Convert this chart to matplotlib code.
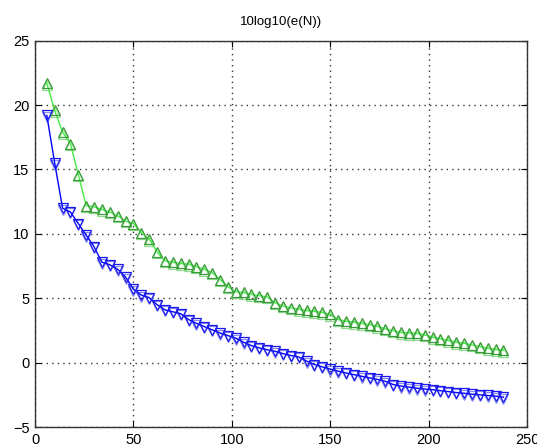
import numpy as np
import matplotlib
matplotlib.use("Agg")
import matplotlib.pyplot as plt
from matplotlib.transforms import offset_copy

plt.rcParams['font.family'] = ['Liberation Sans', 'DejaVu Sans']

# sample index N
n = list(range(6, 242, 4))

# 10*log10(e(N)) for the two runs
err_up = [21.7, 19.6, 17.9, 17.0, 14.6, 12.2, 12.1, 11.9, 11.7, 11.4,
          11.0, 10.8, 10.1, 9.6, 8.6, 7.9, 7.8, 7.7, 7.65, 7.45,
          7.25, 7.0, 6.45, 5.9, 5.5, 5.45, 5.3, 5.2, 5.1, 4.65,
          4.4, 4.25, 4.15, 4.05, 3.98, 3.9, 3.75, 3.35, 3.22, 3.15,
          3.05, 2.95, 2.82, 2.62, 2.48, 2.35, 2.3, 2.28, 2.15, 1.98,
          1.85, 1.72, 1.6, 1.5, 1.38, 1.25, 1.12, 1.03, 0.95]
err_down = [19.2, 15.5, 12.0, 11.7, 10.8, 9.9, 9.0, 7.8, 7.6, 7.25,
            6.65, 5.7, 5.25, 5.05, 4.5, 4.1, 3.95, 3.8, 3.35, 3.05,
            2.8, 2.55, 2.3, 2.1, 1.9, 1.58, 1.32, 1.14, 1.0, 0.88,
            0.7, 0.55, 0.44, 0.12, -0.15, -0.33, -0.5, -0.66, -0.8, -0.93,
            -1.06, -1.18, -1.3, -1.45, -1.7, -1.82, -1.9, -1.98, -2.05, -2.1,
            -2.18, -2.25, -2.32, -2.38, -2.45, -2.5, -2.55, -2.6, -2.68]

fig = plt.figure(figsize=(5.37, 4.45), dpi=100)
ax = fig.add_axes([0.0652, 0.0404, 0.9162, 0.8681])

# faint shifted marker copies give the soft doubled look of the markers
shadow = offset_copy(ax.transData, fig=fig, x=0.0, y=-1.5, units='dots')
ax.plot(n, err_up, '^', mfc='none', mec='#8fdc8f', ms=7, mew=0.9, transform=shadow)
ax.plot(n, err_down, 'v', mfc='none', mec='#8a8af0', ms=7, mew=0.9, transform=shadow)

ax.plot(n, err_up, '-', color='#44ee44', lw=1.0)
ax.plot(n, err_up, '^', mfc='none', mec='#3a9a3a', ms=7, mew=0.9)
ax.plot(n, err_down, '-', color='#0000ff', lw=1.0)
ax.plot(n, err_down, 'v', mfc='none', mec='#1a1aee', ms=7, mew=0.9)

ax.set_xlim(0, 250)
ax.set_ylim(-5, 25)
ax.set_xticks(range(0, 251, 50))
ax.set_yticks(range(-5, 26, 5))
ax.grid(True, linestyle=(0, (1, 3)), color='#333333', lw=1.0)
ax.tick_params(direction='in', top=True, right=True, labelsize=10.5, length=4, pad=4)
for s in ax.spines.values():
    s.set_color('#333333')
    s.set_linewidth(1.0)

ax.set_title('10log10(e(N))', fontsize=9.5, pad=11)

fig.savefig('out.png', dpi=100)
